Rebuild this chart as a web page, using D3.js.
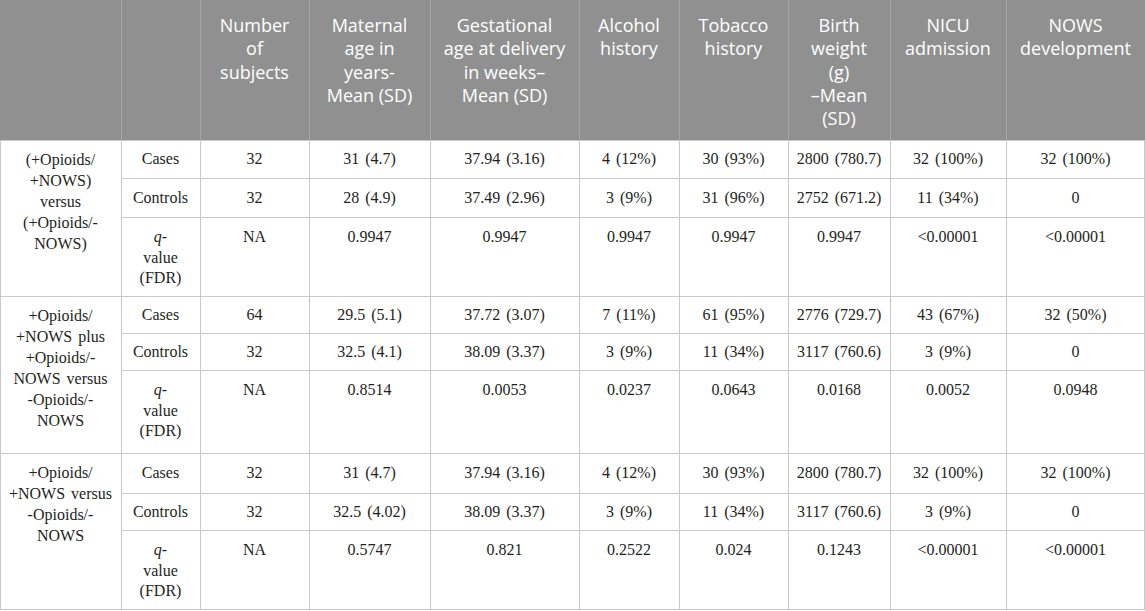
<!DOCTYPE html>
<html>
<head>
<meta charset="utf-8">
<script src="https://cdn.jsdelivr.net/npm/d3@7"></script>
<style>
  html, body { margin: 0; padding: 0; background: #fff; }
  svg { display: block; }
</style>
</head>
<body>
<svg id="table"></svg>
<script>
// column headings, one entry per column, each a list of lines
const columnHeaders = [
  [],
  [],
  ["Number", "of", "subjects"],
  ["Maternal", "age in", "years-", "Mean (SD)"],
  ["Gestational", "age at delivery", "in weeks\u2013", "Mean (SD)"],
  ["Alcohol", "history"],
  ["Tobacco", "history"],
  ["Birth", "weight", "(g)", "\u2013Mean", "(SD)"],
  ["NICU", "admission"],
  ["NOWS", "development"]
];

// comparison labels for the three blocks
const groupLabels = [
  ["(+Opioids/", "+NOWS)", "versus", "(+Opioids/-", "NOWS)"],
  ["+Opioids/", "+NOWS plus", "+Opioids/-", "NOWS versus", "-Opioids/-", "NOWS"],
  ["+Opioids/", "+NOWS versus", "-Opioids/-", "NOWS"]
];

const rowLabels = ["Cases", "Controls", "q-value (FDR)"];

// values per block: cases, controls, q-value
const group1Values = [
  ["32", "31 (4.7)", "37.94 (3.16)", "4 (12%)", "30 (93%)", "2800 (780.7)", "32 (100%)", "32 (100%)"],
  ["32", "28 (4.9)", "37.49 (2.96)", "3 (9%)", "31 (96%)", "2752 (671.2)", "11 (34%)", "0"],
  ["NA", "0.9947", "0.9947", "0.9947", "0.9947", "0.9947", "<0.00001", "<0.00001"]
];
const group2Values = [
  ["64", "29.5 (5.1)", "37.72 (3.07)", "7 (11%)", "61 (95%)", "2776 (729.7)", "43 (67%)", "32 (50%)"],
  ["32", "32.5 (4.1)", "38.09 (3.37)", "3 (9%)", "11 (34%)", "3117 (760.6)", "3 (9%)", "0"],
  ["NA", "0.8514", "0.0053", "0.0237", "0.0643", "0.0168", "0.0052", "0.0948"]
];
const group3Values = [
  ["32", "31 (4.7)", "37.94 (3.16)", "4 (12%)", "30 (93%)", "2800 (780.7)", "32 (100%)", "32 (100%)"],
  ["32", "32.5 (4.02)", "38.09 (3.37)", "3 (9%)", "11 (34%)", "3117 (760.6)", "3 (9%)", "0"],
  ["NA", "0.5747", "0.821", "0.2522", "0.024", "0.1243", "<0.00001", "<0.00001"]
];

const groupValues = [group1Values, group2Values, group3Values];

// layout
const width = 1145, height = 611;
const colEdges = [0, 121, 200, 309, 430, 579, 679, 788, 890, 1006, 1145];
const rowEdges = [0, 140, 178, 217, 296, 333, 370, 453, 493, 530, 610];
const headerBg = "#909090";
const gridColor = "#c9c9c9";
const bodyFont = "'Liberation Serif', 'Times New Roman', serif";
const headFont = "'Open Sans', 'Noto Sans', sans-serif";

const colIdx = d3.range(colEdges.length - 1);
const x0 = d3.scaleOrdinal().domain(colIdx).range(colEdges.slice(0, -1));
const x1 = d3.scaleOrdinal().domain(colIdx).range(colEdges.slice(1));
const xc = i => (x0(i) + x1(i)) / 2;

const rowIdx = d3.range(rowEdges.length - 1);
const y0 = d3.scaleOrdinal().domain(rowIdx).range(rowEdges.slice(0, -1));
const y1 = d3.scaleOrdinal().domain(rowIdx).range(rowEdges.slice(1));

const svg = d3.select("#table")
  .attr("width", width)
  .attr("height", height);

// header band
svg.append("rect")
  .attr("x", 0).attr("y", 0)
  .attr("width", width).attr("height", y1(0))
  .attr("fill", headerBg);

// header separators
svg.append("g")
  .selectAll("line")
  .data(colIdx.slice(1))
  .enter().append("line")
  .attr("x1", d => x0(d) + 0.5).attr("x2", d => x0(d) + 0.5)
  .attr("y1", 0).attr("y2", y1(0))
  .attr("stroke", "#a4a4a4");

// header text
const head = svg.append("g")
  .attr("font-family", headFont)
  .attr("font-size", 18)
  .attr("fill", "#fff")
  .attr("text-anchor", "middle");

head.selectAll("text")
  .data(columnHeaders.map((lines, i) => ({ lines, i })))
  .enter().append("text")
  .attr("x", d => xc(d.i))
  .each(function (d) {
    d3.select(this).selectAll("tspan")
      .data(d.lines)
      .enter().append("tspan")
      .attr("x", xc(d.i))
      .attr("y", (t, k) => 32 + k * 23.3)
      .text(t => t);
  });

// body grid
const grid = svg.append("g")
  .attr("stroke", gridColor)
  .attr("stroke-width", 1)
  .attr("fill", "none");

// horizontal lines: full width at group edges, partial inside groups
rowIdx.slice(1).forEach(r => {
  const isGroupStart = (r - 1) % 3 === 0;
  grid.append("line")
    .attr("x1", isGroupStart ? 0 : x0(1))
    .attr("x2", width)
    .attr("y1", y0(r) + 0.5).attr("y2", y0(r) + 0.5);
});
grid.append("line")
  .attr("x1", 0).attr("x2", width)
  .attr("y1", height - 1.5).attr("y2", height - 1.5);

// vertical lines in body
colEdges.forEach(xe => {
  const xx = xe === width ? width - 0.5 : xe + 0.5;
  grid.append("line")
    .attr("x1", xx).attr("x2", xx)
    .attr("y1", y1(0)).attr("y2", height - 1);
});

// body text
const body = svg.append("g")
  .attr("font-family", bodyFont)
  .attr("font-size", 16)
  .attr("word-spacing", 2)
  .attr("fill", "#231f20")
  .attr("text-anchor", "middle");

groupValues.forEach((rows, g) => {
  const firstRow = 1 + g * 3;

  // group label
  body.append("text")
    .selectAll("tspan")
    .data(groupLabels[g])
    .enter().append("tspan")
    .attr("x", xc(0))
    .attr("y", (t, k) => y0(firstRow) + 25 + k * 21)
    .text(t => t);

  rows.forEach((vals, r) => {
    const row = firstRow + r;
    const isQ = r === 2;
    const ty = isQ ? y0(row) + 25 : (y0(row) + y1(row)) / 2 + 5;

    // row label
    if (isQ) {
      const lbl = body.append("text");
      const l1 = lbl.append("tspan").attr("x", xc(1)).attr("y", ty);
      l1.append("tspan").attr("font-style", "italic").text("q");
      l1.append("tspan").text("-");
      lbl.append("tspan").attr("x", xc(1)).attr("y", ty + 20.5).text("value");
      lbl.append("tspan").attr("x", xc(1)).attr("y", ty + 41).text("(FDR)");
    } else {
      body.append("text")
        .attr("x", xc(1)).attr("y", ty)
        .text(rowLabels[r]);
    }

    body.selectAll(null)
      .data(vals.map((v, c) => ({ v, c: c + 2 })))
      .enter().append("text")
      .attr("x", d => xc(d.c))
      .attr("y", ty)
      .text(d => d.v);
  });
});
</script>
</body>
</html>
